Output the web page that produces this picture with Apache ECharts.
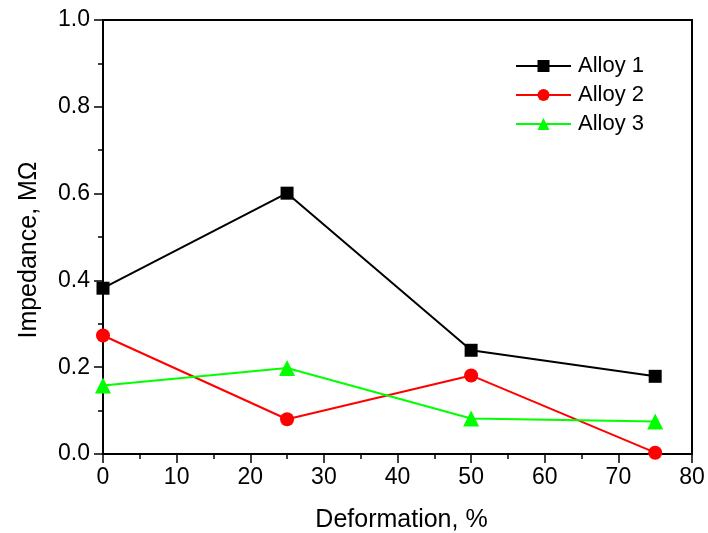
<!DOCTYPE html>
<html>
<head>
<meta charset="utf-8">
<script src="https://cdn.jsdelivr.net/npm/echarts@6/dist/echarts.min.js"></script>
<style>
html,body{margin:0;padding:0;background:#fff;}
#chart{width:708px;height:533px;}
</style>
</head>
<body>
<div id="chart"></div>
<script>
// Deformation levels (%) and measured impedance (MΩ) per alloy
const deformation = [0, 25, 50, 75];
const alloy1 = [0.382, 0.601, 0.239, 0.179];
const alloy2 = [0.273, 0.080, 0.181, 0.003];
const alloy3 = [0.158, 0.198, 0.082, 0.075];
const seriesNames = ['Alloy 1', 'Alloy 2', 'Alloy 3'];

const font = 'Liberation Sans, Arial, sans-serif';
const pairs = ys => deformation.map((x, i) => [x, ys[i]]);

const chart = echarts.init(document.getElementById('chart'), null, {renderer: 'canvas'});

function lineSeries(name, ys, color, symbol, size) {
  return {
    name: name,
    type: 'line',
    data: pairs(ys),
    symbol: symbol,
    symbolSize: size,
    showAllSymbol: true,
    clip: false,
    lineStyle: {color: color, width: 2},
    itemStyle: {color: color},
    emphasis: {disabled: true},
    z: 3
  };
}

const axisCommon = {
  axisLine: {show: true, onZero: false, lineStyle: {color: '#000', width: 2}},
  axisTick: {show: true, inside: false, length: 9, lineStyle: {color: '#000', width: 1.5}},
  minorTick: {show: true, splitNumber: 2, length: 5, lineStyle: {color: '#000', width: 1.5}},
  splitLine: {show: false},
  axisLabel: {color: '#000', fontSize: 23, fontFamily: font}
};

chart.setOption({
  animation: false,
  backgroundColor: '#fff',
  grid: {
    left: 103, top: 20, width: 589, height: 434,
    outerBoundsMode: 'none', containLabel: false,
    show: true, borderColor: '#000', borderWidth: 2, backgroundColor: 'transparent'
  },
  legend: {
    data: seriesNames,
    orient: 'vertical',
    left: 510,
    top: 50,
    itemWidth: 55,
    itemHeight: 15,
    itemGap: 7,
    textStyle: {color: '#000', fontSize: 22, fontFamily: font, padding: [0, 0, 0, 2]},
    selectedMode: false
  },
  xAxis: Object.assign({}, axisCommon, {
    type: 'value', min: 0, max: 80, interval: 10,
    name: 'Deformation, %', nameLocation: 'middle', nameGap: 54,
    nameTextStyle: {color: '#000', fontSize: 25, fontFamily: font, padding: [0, 0, 0, 8]},
    axisLabel: Object.assign({}, axisCommon.axisLabel, {margin: 12})
  }),
  yAxis: Object.assign({}, axisCommon, {
    type: 'value', min: 0, max: 1.0, interval: 0.2,
    name: 'Impedance, MΩ', nameLocation: 'middle', nameGap: 61,
    nameTextStyle: {color: '#000', fontSize: 25, fontFamily: font, padding: [0, 26, 0, 0]},
    axisLabel: Object.assign({}, axisCommon.axisLabel, {margin: 13, formatter: v => v.toFixed(1)})
  }),
  series: [
    lineSeries(seriesNames[0], alloy1, '#000000', 'rect', 13),
    lineSeries(seriesNames[1], alloy2, '#ff0000', 'circle', 14),
    lineSeries(seriesNames[2], alloy3, '#00ff00', 'triangle', 16)
  ]
});
</script>
</body>
</html>
